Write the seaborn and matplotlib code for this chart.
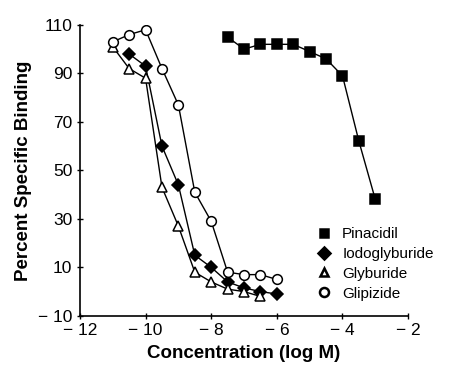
import matplotlib
matplotlib.use("Agg")
import matplotlib.pyplot as plt
from matplotlib.lines import Line2D
import pandas as pd
import seaborn as sns

# log molar concentration and percent specific binding
pinacidil_x = [-7.5, -7, -6.5, -6, -5.5, -5, -4.5, -4, -3.5, -3]
pinacidil_y = [105, 100, 102, 102, 102, 99, 96, 89, 62, 38]

iodo_x = [-10.5, -10, -9.5, -9, -8.5, -8, -7.5, -7, -6.5, -6]
iodo_y = [98, 93, 60, 44, 15, 10, 4, 1.5, 0, -1]

glyb_x = [-11, -10.5, -10, -9.5, -9, -8.5, -8, -7.5, -7, -6.5]
glyb_y = [101, 92, 88, 43, 27, 8, 4, 1, 0, -2]

glip_x = [-11, -10.5, -10, -9.5, -9, -8.5, -8, -7.5, -7, -6.5, -6]
glip_y = [103, 106, 108, 92, 77, 41, 29, 8, 7, 7, 5]

x_ticks = [-12, -10, -8, -6, -4, -2]
x_ticklabels = ["\u2212 12", "\u2212 10", "\u2212 8", "\u2212 6", "\u2212 4", "\u2212 2"]
y_ticks = [-10, 10, 30, 50, 70, 90, 110]
y_ticklabels = ["\u2212 10", "10", "30", "50", "70", "90", "110"]

sns.set_style("ticks")
plt.rcParams["font.family"] = ["Liberation Sans", "DejaVu Sans"]
plt.rcParams.update({"text.color": "black", "axes.labelcolor": "black",
                     "xtick.color": "black", "ytick.color": "black"})

series = [
    ("Pinacidil", pinacidil_x, pinacidil_y, "s", "black", 6.5),
    ("Iodoglyburide", iodo_x, iodo_y, "D", "black", 6.5),
    ("Glyburide", glyb_x, glyb_y, "^", "white", 6.5),
    ("Glipizide", glip_x, glip_y, "o", "white", 7),
]

fig = plt.figure(figsize=(4.49, 3.72), dpi=100)
ax = fig.add_axes([0.178, 0.151, 0.731, 0.782])

handles = []
for name, xs, ys, mk, fc, ms in series:
    df = pd.DataFrame({"conc": xs, "binding": ys})
    sns.lineplot(data=df, x="conc", y="binding", ax=ax, color="black",
                 linewidth=1, marker=mk, markersize=ms, markerfacecolor=fc,
                 markeredgecolor="black", markeredgewidth=1.1, zorder=3)
    handles.append(Line2D([], [], linestyle="none", marker=mk, markersize=ms - 0.5,
                          markerfacecolor=fc, markeredgecolor="black",
                          markeredgewidth=1.8, label=name))

ax.set_xlim(-12, -2)
ax.set_ylim(-10, 110)
ax.set_xticks(x_ticks)
ax.set_xticklabels(x_ticklabels, fontsize=12.5)
ax.set_yticks(y_ticks)
ax.set_yticklabels(y_ticklabels, fontsize=12.5)
ax.tick_params(direction="inout", length=5, width=1, color="black", pad=3)
for s in ["left", "bottom"]:
    ax.spines[s].set_linewidth(1.2)
    ax.spines[s].set_color("black")
sns.despine(ax=ax)

ax.set_xlabel("Concentration (log M)", fontsize=13.5, fontweight="bold", labelpad=5)
ax.set_ylabel("Percent Specific Binding", fontsize=13.5, fontweight="bold", labelpad=4)

ax.legend(handles=handles, loc="upper left", bbox_to_anchor=(0.72, 0.305),
          frameon=False, fontsize=11, handletextpad=0.7, labelspacing=0.38,
          handlelength=1.0, borderpad=0, borderaxespad=0)

fig.savefig("out.png", dpi=100, facecolor="white")
